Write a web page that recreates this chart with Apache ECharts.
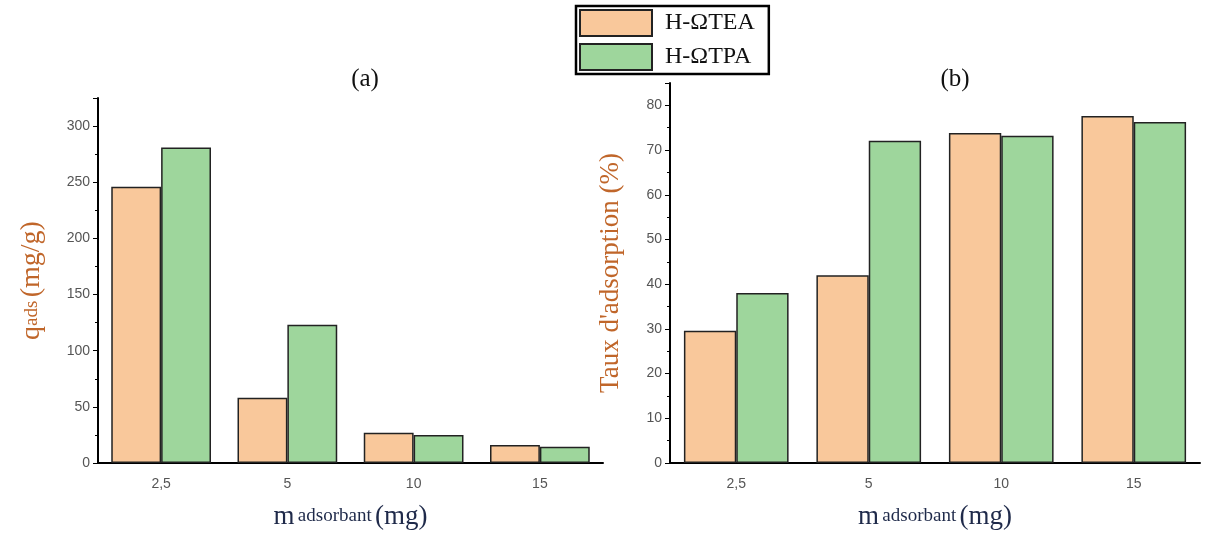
<!DOCTYPE html>
<html><head><meta charset="utf-8">
<script src="https://cdn.jsdelivr.net/npm/echarts@6/dist/echarts.min.js"></script>
<style>html,body{margin:0;background:#fff}#c{width:1205px;height:535px}</style>
</head><body><div id="c"></div>
<script>
const categories = ['2,5', '5', '10', '15'];
const qTEA = [246, 58, 27, 16];
const qTPA = [281, 123, 25, 14.5];
const tauxTEA = [29.6, 42, 73.8, 77.6];
const tauxTPA = [38, 72.1, 73.2, 76.3];

const orange = '#f9c89b', green = '#9ed69c';
const serif = 'Liberation Serif';
const xName = {
  name: '{m|m} {s|adsorbant} {m|(mg)}', nameLocation: 'middle', nameGap: 40,
  nameTextStyle: { rich: { m: { fontFamily: serif, fontSize: 27, color: '#1f2a4a' }, s: { fontFamily: serif, fontSize: 19, color: '#1f2a4a' } } }
};
function xAxis(i) {
  return Object.assign({
    type: 'category', gridIndex: i, data: categories,
    axisLine: { lineStyle: { color: '#000', width: 2 } },
    axisTick: { alignWithLabel: false, lineStyle: { color: '#000' } },
    axisLabel: { color: '#555', fontSize: 14, fontFamily: 'Liberation Sans', margin: 14 }
  }, xName);
}
function yAxis(i, max, interval, name) {
  return {
    type: 'value', gridIndex: i, min: 0, max, interval,
    name, nameLocation: 'middle', nameGap: i ? 46 : 52,
    axisLine: { show: true, lineStyle: { color: '#000', width: 2 } },
    axisTick: { show: true, lineStyle: { color: '#000' } },
    minorTick: { show: true, splitNumber: 2, lineStyle: { color: '#000' } },
    splitLine: { show: false },
    axisLabel: { color: '#555', fontSize: 14, fontFamily: 'Liberation Sans',
      formatter: v => v > max - interval / 2 && v % interval ? '' : v }
  };
}
function bar(name, data, color, i) {
  return { name, type: 'bar', data, xAxisIndex: i, yAxisIndex: i, barGap: 0, barCategoryGap: '21%',
    itemStyle: { color, borderColor: '#222', borderWidth: 1.5 } };
}
const chart = echarts.init(document.getElementById('c'));
chart.setOption({
  animation: false,
  title: [
    { text: '(a)', left: 360, top: 62, textAlign: 'center', textStyle: { fontFamily: serif, fontSize: 25, fontWeight: 'normal', color: '#111' } },
    { text: '(b)', left: 950, top: 62, textAlign: 'center', textStyle: { fontFamily: serif, fontSize: 25, fontWeight: 'normal', color: '#111' } }
  ],
  legend: {
    left: 576, top: 6, orient: 'vertical', icon: 'rect', itemWidth: 72, itemHeight: 26, itemGap: 6,
    padding: [3, 14, 3, 3], borderColor: '#000', borderWidth: 2.5,
    textStyle: { fontFamily: serif, fontSize: 24, color: '#111', padding: [0, 0, 0, 8] },
    data: ['H-ΩTEA', 'H-ΩTPA']
  },
  grid: [
    { left: 98, right: 602, top: 98, bottom: 63 },
    { left: 670, right: 5, top: 83, bottom: 72 }
  ],
  xAxis: [xAxis(0), xAxis(1)],
  yAxis: [
    Object.assign(yAxis(0, 325, 50, '{q|q}{s|ads} {q|(mg/g)}'), { nameTextStyle: { rich: {
      q: { fontFamily: serif, fontSize: 28, color: '#c0662a' }, s: { fontFamily: serif, fontSize: 19, color: '#c0662a' } } } }),
    Object.assign(yAxis(1, 85, 10, "Taux d'adsorption (%)"), { nameTextStyle: { fontFamily: serif, fontSize: 27, color: '#c0662a' } })
  ],
  series: [
    bar('H-ΩTEA', qTEA, orange, 0), bar('H-ΩTPA', qTPA, green, 0),
    bar('H-ΩTEA', tauxTEA, orange, 1), bar('H-ΩTPA', tauxTPA, green, 1)
  ]
});
</script></body></html>
